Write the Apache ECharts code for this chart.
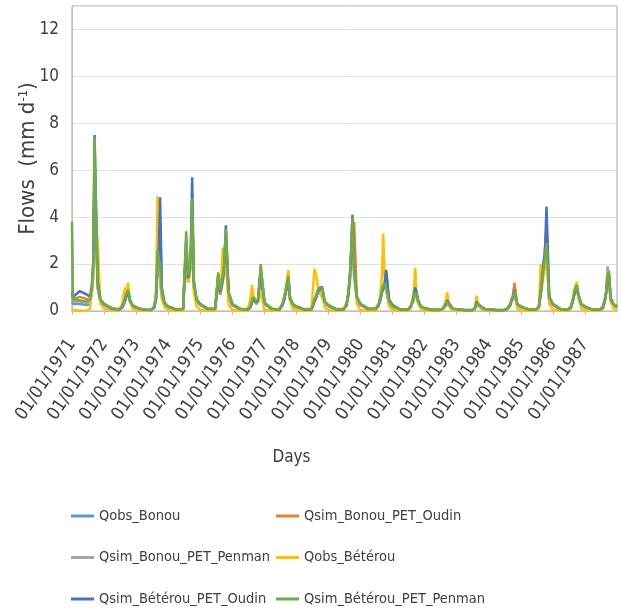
<!DOCTYPE html>
<html>
<head>
<meta charset="utf-8">
<title>Flows 1971-1987</title>
<script src="https://cdn.jsdelivr.net/npm/echarts@6/dist/echarts.min.js"></script>
<style>
  html, body { margin: 0; padding: 0; background: #fff; }
  #chart { width: 621px; height: 614px; }
</style>
</head>
<body>
<div id="chart"></div>
<script>
// sampling grid : same days every year
const years = [1971, 1972, 1973, 1974, 1975, 1976, 1977, 1978, 1979,
               1980, 1981, 1982, 1983, 1984, 1985, 1986, 1987];
const sampleDays = ['01-01', '01-12', '04-01', '06-20', '07-25', '08-15',
                    '09-01', '09-15', '10-01', '10-20', '11-20'];
const lastDay = '1987-12-31';

const seriesNames = ['Qobs_Bonou', 'Qsim_Bonou_PET_Oudin', 'Qsim_Bonou_PET_Penman',
                     'Qobs_Bétérou', 'Qsim_Bétérou_PET_Oudin', 'Qsim_Bétérou_PET_Penman'];
const colors = ['#5B9BD5', '#ED7D31', '#A5A5A5', '#FFC000', '#4472C4', '#70AD47'];

// mm/d, one row per year (+ last value for 31/12/1987)
const qobsBonou = [
  0.4, 0.3, 0.3, 0.25, 0.3, 0.8, 1.6, 6.0, 3.5, 1.0, 0.4,
  0.25, 0.2, 0.08, 0.05, 0.15, 0.3, 0.5, 0.7, 0.8, 0.4, 0.2,
  0.1, 0.08, 0.04, 0.03, 0.15, 0.5, 2.2, 1.8, 1.8, 0.6, 0.25,
  0.15, 0.1, 0.05, 0.06, 2.8, 1.2, 1.5, 2.0, 4.2, 1.0, 0.4,
  0.25, 0.2, 0.07, 0.07, 1.4, 0.7, 1.0, 1.3, 1.7, 3.0, 0.6,
  0.25, 0.2, 0.07, 0.05, 0.15, 0.4, 0.5, 0.4, 0.3, 0.4, 1.6,
  0.3, 0.25, 0.07, 0.05, 0.25, 0.5, 0.8, 1.0, 1.3, 0.5, 0.25,
  0.15, 0.12, 0.05, 0.05, 0.4, 0.6, 0.8, 0.85, 0.8, 0.85, 0.3,
  0.2, 0.15, 0.05, 0.05, 0.25, 0.7, 1.3, 2.2, 3.5, 1.5, 0.5,
  0.25, 0.2, 0.08, 0.08, 0.25, 0.5, 0.8, 0.9, 1.0, 0.9, 0.3,
  0.15, 0.12, 0.05, 0.05, 0.15, 0.35, 0.5, 0.7, 0.6, 0.35, 0.15,
  0.1, 0.08, 0.04, 0.04, 0.08, 0.15, 0.25, 0.35, 0.3, 0.15, 0.08,
  0.06, 0.05, 0.03, 0.03, 0.08, 0.3, 0.25, 0.2, 0.15, 0.1, 0.06,
  0.05, 0.04, 0.03, 0.03, 0.08, 0.15, 0.25, 0.4, 0.5, 0.7, 0.25,
  0.15, 0.12, 0.05, 0.05, 0.15, 0.7, 1.2, 1.6, 1.9, 2.5, 0.4,
  0.25, 0.18, 0.06, 0.05, 0.15, 0.4, 0.7, 0.85, 0.95, 0.6, 0.25,
  0.15, 0.12, 0.05, 0.05, 0.15, 0.4, 0.8, 1.3, 1.4, 0.5, 0.25,
  0.15
];
const qsimBonouOudin = [
  0.6, 0.5, 0.6, 0.5, 0.4, 0.9, 1.8, 6.5, 4.0, 1.1, 0.45,
  0.28, 0.22, 0.09, 0.05, 0.15, 0.32, 0.5, 0.7, 0.8, 0.45, 0.22,
  0.12, 0.1, 0.04, 0.03, 0.15, 0.5, 2.2, 2.0, 3.8, 0.8, 0.3,
  0.18, 0.12, 0.05, 0.07, 2.8, 1.3, 1.6, 2.2, 4.6, 1.1, 0.45,
  0.28, 0.22, 0.07, 0.07, 1.4, 0.7, 1.0, 1.3, 1.8, 3.2, 0.7,
  0.28, 0.22, 0.07, 0.05, 0.15, 0.4, 0.5, 0.4, 0.3, 0.4, 1.6,
  0.35, 0.28, 0.07, 0.05, 0.25, 0.5, 0.8, 1.0, 1.3, 0.5, 0.25,
  0.18, 0.14, 0.05, 0.05, 0.4, 0.6, 0.8, 0.85, 0.85, 0.95, 0.35,
  0.22, 0.18, 0.05, 0.05, 0.25, 0.7, 1.3, 2.3, 3.6, 3.8, 0.6,
  0.28, 0.22, 0.08, 0.08, 0.25, 0.5, 0.8, 1.0, 1.1, 1.6, 0.45,
  0.2, 0.15, 0.05, 0.05, 0.18, 0.38, 0.6, 0.8, 0.7, 0.4, 0.18,
  0.11, 0.09, 0.04, 0.04, 0.09, 0.18, 0.28, 0.4, 0.35, 0.2, 0.09,
  0.07, 0.06, 0.03, 0.03, 0.09, 0.35, 0.28, 0.22, 0.18, 0.11, 0.07,
  0.05, 0.04, 0.03, 0.03, 0.08, 0.15, 0.25, 0.45, 0.6, 1.2, 0.3,
  0.18, 0.14, 0.05, 0.05, 0.18, 0.75, 1.3, 2.0, 2.6, 3.6, 0.5,
  0.28, 0.2, 0.07, 0.05, 0.15, 0.45, 0.75, 0.9, 1.0, 0.6, 0.28,
  0.18, 0.14, 0.05, 0.05, 0.15, 0.45, 0.8, 1.4, 1.5, 0.5, 0.28,
  0.18
];
const qsimBonouPenman = [
  3.0, 0.4, 0.4, 0.35, 0.4, 0.9, 1.8, 6.2, 3.8, 1.0, 0.45,
  0.26, 0.2, 0.1, 0.06, 0.18, 0.35, 0.55, 0.75, 0.85, 0.45, 0.22,
  0.13, 0.1, 0.05, 0.04, 0.18, 0.55, 2.3, 1.9, 1.8, 0.7, 0.3,
  0.18, 0.13, 0.07, 0.08, 3.0, 1.3, 1.6, 2.2, 4.2, 1.1, 0.45,
  0.28, 0.22, 0.09, 0.09, 1.5, 0.8, 1.1, 1.4, 1.8, 3.0, 0.7,
  0.28, 0.22, 0.09, 0.07, 0.18, 0.45, 0.55, 0.45, 0.35, 0.45, 1.7,
  0.35, 0.28, 0.09, 0.07, 0.28, 0.55, 0.85, 1.1, 1.4, 0.55, 0.28,
  0.18, 0.14, 0.07, 0.07, 0.45, 0.65, 0.85, 0.9, 0.9, 0.9, 0.35,
  0.22, 0.18, 0.07, 0.07, 0.28, 0.75, 1.4, 2.3, 3.6, 1.6, 0.55,
  0.28, 0.22, 0.09, 0.09, 0.28, 0.55, 0.85, 1.0, 1.1, 0.9, 0.35,
  0.18, 0.14, 0.06, 0.05, 0.18, 0.38, 0.55, 0.75, 0.65, 0.38, 0.18,
  0.11, 0.09, 0.05, 0.05, 0.09, 0.18, 0.28, 0.38, 0.32, 0.18, 0.09,
  0.07, 0.06, 0.04, 0.04, 0.09, 0.32, 0.28, 0.22, 0.18, 0.11, 0.07,
  0.06, 0.05, 0.04, 0.04, 0.09, 0.18, 0.28, 0.45, 0.55, 0.75, 0.28,
  0.18, 0.14, 0.06, 0.06, 0.18, 0.75, 1.3, 1.9, 2.5, 2.6, 0.45,
  0.28, 0.2, 0.07, 0.06, 0.18, 0.45, 0.75, 0.9, 1.0, 0.65, 0.28,
  0.18, 0.14, 0.05, 0.05, 0.18, 0.45, 0.85, 1.9, 1.6, 0.55, 0.28,
  0.18
];
const qobsBeterou = [
  0.05, 0.03, 0.01, 0.02, 0.1, 0.8, 1.5, 5.0, 3.5, 3.0, 0.3,
  0.1, 0.05, 0.01, 0.02, 0.3, 0.8, 1.0, 0.9, 1.2, 0.5, 0.1,
  0.05, 0.03, 0.01, 0.01, 0.2, 0.8, 4.9, 3.0, 1.5, 0.5, 0.15,
  0.05, 0.03, 0.01, 0.02, 2.5, 1.2, 1.5, 2.0, 4.5, 0.8, 0.2,
  0.05, 0.03, 0.01, 0.02, 1.6, 0.8, 1.5, 2.7, 1.8, 2.0, 0.3,
  0.05, 0.03, 0.01, 0.01, 0.5, 1.1, 0.6, 0.4, 0.3, 0.3, 0.8,
  0.05, 0.03, 0.01, 0.01, 0.3, 0.6, 1.0, 1.3, 1.75, 0.4, 0.1,
  0.05, 0.03, 0.01, 0.01, 1.8, 1.5, 1.1, 0.8, 0.7, 0.8, 0.15,
  0.05, 0.03, 0.01, 0.01, 0.2, 0.6, 1.2, 2.0, 3.5, 2.0, 0.3,
  0.05, 0.03, 0.01, 0.01, 0.2, 0.8, 1.5, 3.3, 1.5, 1.0, 0.2,
  0.05, 0.03, 0.01, 0.01, 0.1, 0.5, 0.9, 1.85, 0.6, 0.3, 0.08,
  0.03, 0.02, 0.0, 0.0, 0.05, 0.3, 0.5, 0.8, 0.3, 0.1, 0.03,
  0.02, 0.01, 0.0, 0.0, 0.1, 0.65, 0.3, 0.2, 0.1, 0.05, 0.02,
  0.01, 0.01, 0.0, 0.0, 0.05, 0.1, 0.2, 0.4, 0.6, 0.8, 0.1,
  0.02, 0.01, 0.0, 0.0, 0.1, 2.0, 1.2, 1.5, 2.0, 2.5, 0.3,
  0.05, 0.03, 0.01, 0.01, 0.1, 0.5, 0.9, 1.1, 1.25, 0.5, 0.1,
  0.03, 0.02, 0.0, 0.0, 0.1, 0.4, 0.8, 1.7, 1.5, 0.4, 0.1,
  0.05
];
const qsimBeterouOudin = [
  0.8, 0.6, 0.85, 0.7, 0.6, 1.1, 2.2, 7.5, 4.6, 1.3, 0.5,
  0.3, 0.25, 0.1, 0.06, 0.15, 0.35, 0.5, 0.7, 0.85, 0.5, 0.25,
  0.15, 0.12, 0.05, 0.04, 0.15, 0.5, 2.2, 2.4, 4.85, 1.0, 0.35,
  0.2, 0.15, 0.06, 0.08, 3.0, 1.4, 1.7, 2.4, 5.7, 1.3, 0.5,
  0.3, 0.25, 0.08, 0.08, 1.5, 0.8, 1.1, 1.4, 1.9, 3.65, 0.8,
  0.3, 0.25, 0.08, 0.06, 0.15, 0.4, 0.5, 0.45, 0.35, 0.45, 1.8,
  0.4, 0.3, 0.08, 0.06, 0.25, 0.5, 0.8, 1.1, 1.4, 0.55, 0.3,
  0.2, 0.15, 0.06, 0.06, 0.4, 0.6, 0.8, 0.9, 0.9, 1.05, 0.4,
  0.25, 0.2, 0.06, 0.06, 0.25, 0.7, 1.4, 2.4, 4.1, 1.9, 0.6,
  0.3, 0.25, 0.08, 0.08, 0.25, 0.5, 0.8, 1.0, 1.2, 1.75, 0.5,
  0.25, 0.18, 0.06, 0.05, 0.2, 0.4, 0.7, 1.0, 0.8, 0.45, 0.2,
  0.12, 0.1, 0.04, 0.04, 0.1, 0.2, 0.3, 0.45, 0.4, 0.25, 0.1,
  0.08, 0.06, 0.03, 0.03, 0.1, 0.4, 0.3, 0.25, 0.2, 0.12, 0.08,
  0.06, 0.05, 0.03, 0.03, 0.08, 0.15, 0.25, 0.45, 0.6, 0.9, 0.3,
  0.2, 0.15, 0.06, 0.06, 0.2, 0.8, 1.4, 2.0, 2.4, 4.45, 0.6,
  0.3, 0.22, 0.07, 0.06, 0.15, 0.4, 0.7, 0.9, 1.0, 0.65, 0.3,
  0.2, 0.15, 0.05, 0.05, 0.15, 0.45, 0.8, 1.4, 1.6, 0.55, 0.3,
  0.2
];
const qsimBeterouPenman = [
  3.8, 0.5, 0.45, 0.4, 0.5, 1.0, 2.0, 7.4, 4.4, 1.2, 0.5,
  0.3, 0.25, 0.12, 0.08, 0.2, 0.4, 0.6, 0.8, 0.9, 0.5, 0.25,
  0.15, 0.12, 0.06, 0.05, 0.2, 0.6, 2.6, 2.2, 2.0, 0.8, 0.35,
  0.2, 0.15, 0.08, 0.1, 3.4, 1.5, 1.8, 2.5, 4.8, 1.2, 0.5,
  0.3, 0.25, 0.1, 0.1, 1.65, 0.9, 1.2, 1.5, 2.0, 3.5, 0.8,
  0.3, 0.25, 0.1, 0.08, 0.2, 0.5, 0.6, 0.5, 0.4, 0.5, 2.0,
  0.4, 0.3, 0.1, 0.08, 0.3, 0.6, 0.9, 1.2, 1.5, 0.6, 0.3,
  0.2, 0.15, 0.08, 0.08, 0.5, 0.7, 0.9, 1.0, 0.95, 1.0, 0.4,
  0.25, 0.2, 0.08, 0.08, 0.3, 0.8, 1.5, 2.5, 4.0, 1.8, 0.6,
  0.3, 0.25, 0.1, 0.1, 0.3, 0.6, 0.9, 1.1, 1.2, 1.0, 0.4,
  0.2, 0.15, 0.07, 0.06, 0.2, 0.4, 0.6, 0.8, 0.7, 0.4, 0.2,
  0.12, 0.1, 0.05, 0.05, 0.1, 0.2, 0.3, 0.4, 0.35, 0.2, 0.1,
  0.08, 0.07, 0.04, 0.04, 0.1, 0.35, 0.3, 0.25, 0.2, 0.12, 0.08,
  0.06, 0.05, 0.04, 0.04, 0.1, 0.2, 0.3, 0.5, 0.6, 0.85, 0.3,
  0.2, 0.15, 0.07, 0.07, 0.2, 0.8, 1.3, 1.8, 2.2, 2.9, 0.6,
  0.3, 0.22, 0.08, 0.07, 0.2, 0.5, 0.8, 1.0, 1.1, 0.7, 0.3,
  0.2, 0.15, 0.06, 0.06, 0.2, 0.5, 0.9, 1.5, 1.7, 0.6, 0.3,
  0.2
];
const allValues = [qobsBonou, qsimBonouOudin, qsimBonouPenman,
                   qobsBeterou, qsimBeterouOudin, qsimBeterouPenman];

const yTicks = [0, 2, 4, 6, 8, 10, 12];

const dates = [];
years.forEach(y => sampleDays.forEach(d => dates.push(y + '-' + d)));
dates.push(lastDay);

const FONT = "'Liberation Sans Narrow', 'DejaVu Sans Condensed', 'Liberation Sans', Arial, sans-serif";
const TXT = '#404040';
const YEAR_MS = 365 * 24 * 3600 * 1000;

let myChart = echarts.init(document.getElementById('chart'), null, { renderer: 'canvas' });

function legendFor(idx, left) {
  return {
    orient: 'vertical',
    left: left,
    top: 506,
    padding: 0,
    itemWidth: 23,
    itemHeight: 3,
    itemGap: 21.5,
    icon: 'rect',
    data: idx.map(i => seriesNames[i]),
    textStyle: { fontFamily: FONT, fontSize: 14.5, color: TXT, lineHeight: 20 }
  };
}

let option = {
  animation: false,
  backgroundColor: '#fff',
  color: colors,
  textStyle: { fontFamily: FONT },
  grid: {
    left: 72, right: 4, top: 6, bottom: 303,
    show: true, borderColor: '#a6a6a6', borderWidth: 1
  },
  legend: [legendFor([0, 2, 4], 71), legendFor([1, 3, 5], 276)],
  xAxis: {
    type: 'time',
    min: '1971-01-01',
    max: '1988-01-01',
    splitNumber: 17,
    minInterval: YEAR_MS,
    maxInterval: YEAR_MS,
    name: 'Days',
    nameLocation: 'middle',
    nameGap: 138,
    nameMoveOverlap: false,
    nameTextStyle: { fontFamily: FONT, fontSize: 17, color: TXT, padding: [0, 106, 0, 0] },
    axisLine: { show: true, lineStyle: { color: '#bfbfbf' } },
    axisTick: { show: true, length: 4, lineStyle: { color: '#bfbfbf' } },
    splitLine: { show: false },
    axisLabel: {
      rotate: 56,
      margin: 30,
      fontFamily: FONT,
      fontSize: 18,
      color: TXT,
      showMaxLabel: false,
      hideOverlap: false,
      formatter: '{dd}/{MM}/{yyyy}'
    }
  },
  yAxis: {
    type: 'value',
    min: 0,
    max: 13,
    interval: 2,
    name: 'Flows  (mm d{sup|-1})',
    nameLocation: 'middle',
    nameGap: 33,
    nameMoveOverlap: false,
    nameTextStyle: {
      fontFamily: FONT, fontSize: 22, color: TXT,
      rich: { sup: { fontFamily: FONT, fontSize: 13, color: TXT, verticalAlign: 'top', padding: [0, 0, 9, 0] } }
    },
    axisLine: { show: true, lineStyle: { color: '#bfbfbf' } },
    axisTick: { show: false },
    splitLine: { lineStyle: { color: '#e0e0e0', width: 1 } },
    axisLabel: {
      margin: 13,
      fontFamily: FONT,
      fontSize: 17,
      color: TXT,
      formatter: v => (yTicks.indexOf(v) >= 0 ? String(v) : '')
    }
  },
  series: seriesNames.map((name, i) => ({
    name: name,
    type: 'line',
    showSymbol: false,
    symbol: 'none',
    sampling: null,
    lineStyle: { width: 2.5, color: colors[i] },
    itemStyle: { color: colors[i] },
    data: dates.map((d, k) => [d, allValues[i][k]])
  }))
};

myChart.setOption(option);
</script>
</body>
</html>
